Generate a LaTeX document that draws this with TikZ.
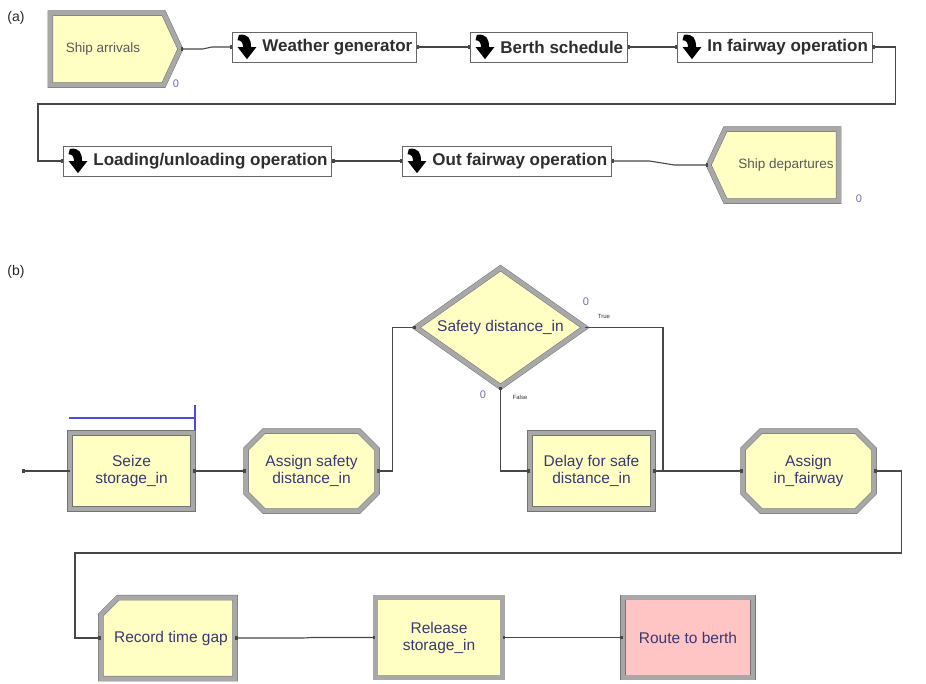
\documentclass[tikz,border=0pt]{standalone}
\usepackage{fontspec}
\setmainfont{Liberation Sans}
\usetikzlibrary{calc, positioning, arrows.meta, shapes.geometric, shapes.symbols, shapes.misc}
\definecolor{arenayellow}{RGB}{255,255,196}
\definecolor{arenapink}{RGB}{255,196,196}
\definecolor{bevel}{RGB}{168,168,168}
\definecolor{bevelline}{RGB}{115,115,115}
\definecolor{modtext}{RGB}{58,56,118}
\definecolor{counter}{RGB}{110,110,175}
\definecolor{seizeblue}{RGB}{75,75,225}
\colorlet{wire}{black!72}

\begin{document}
\begin{tikzpicture}[x=1pt, y=-1pt,
  module/.style={draw=bevelline, double=bevel, double distance=4.5pt, line width=0.5pt,
    fill=arenayellow, text=modtext, align=center, inner sep=0pt,
    font=\fontsize{15.5}{17}\selectfont},
  blockbox/.style={rectangle, module, minimum width=123pt, minimum height=76pt},
  assignbox/.style={chamfered rectangle, chamfered rectangle xsep=9pt, chamfered rectangle ysep=9pt,
    module, minimum width=131pt, minimum height=80pt},
  decidebox/.style={diamond, aspect=1.42, module, minimum width=169pt, minimum height=119pt},
  recordbox/.style={chamfered rectangle, chamfered rectangle corners=north west,
    chamfered rectangle xsep=10pt, chamfered rectangle ysep=10pt,
    module, minimum width=130pt, minimum height=81pt},
  routebox/.style={blockbox, fill=arenapink, minimum width=130pt, minimum height=80pt},
  arrivebox/.style={signal, module, text=black!65, font=\fontsize{13.5}{15}\selectfont,
    signal pointer angle=130, minimum width=130pt, minimum height=72pt},
  subbox/.style={draw=black!60, line width=0.8pt, fill=white, text=black!82,
    font=\fontsize{17}{18}\selectfont\bfseries, minimum height=30pt,
    inner xsep=4pt, inner ysep=0pt, anchor=west},
  tag/.style={font=\fontsize{14}{15}\selectfont, text=black!85},
  count/.style={font=\fontsize{11}{11}\selectfont, text=counter},
  branch/.style={font=\fontsize{6}{6}\selectfont, text=black!80},
  link/.style={draw=wire, line width=1.1pt,
    {Square[length=2.5pt,width=3.5pt]}-{Square[length=2.5pt,width=3.5pt]}},
  subicon/.pic={
    \fill[black, scale=1.35] (-6,-9) .. controls (1,-10) and (3,-6) .. (3,0) -- (7,0) -- (0,9)
      -- (-7,0) -- (-3,0) .. controls (-3,-3) and (-4,-5) .. (-7,-5) -- cycle;
  },
]
\useasboundingbox (0,0) rectangle (926,683);

% (a) top level model
\node[tag] (taga) at (16,18) {(a)};
\node[arrivebox, signal to=east] (sa) at (107,49) {Ship arrivals\hspace{8pt}};
\node[count] at (176,84) {0};

\node[subbox] (wg) at (232,47) {\hspace{26pt}Weather generator};
\pic at ([xshift=15pt]wg.west) {subicon};
\node[subbox] (bs) at (470,47) {\hspace{26pt}Berth schedule};
\pic at ([xshift=15pt]bs.west) {subicon};
\node[subbox] (ifo) at (677,47) {\hspace{26pt}In fairway operation};
\pic at ([xshift=15pt]ifo.west) {subicon};
\node[subbox] (lu) at (63,161) {\hspace{26pt}Loading/unloading operation};
\pic at ([xshift=15pt]lu.west) {subicon};
\node[subbox] (ofo) at (402,161) {\hspace{26pt}Out fairway operation};
\pic at ([xshift=15pt]ofo.west) {subicon};

\node[arrivebox, signal to=west] (sd) at (782,165) {\hspace{8pt}Ship departures};
\node[count] at (859,199) {0};

\coordinate (wrapa) at (38,104);
\draw[link] (sa.east) -- ++(22,0) -- ([xshift=-20pt]wg.west) -- (wg.west);
\draw[link] (wg.east) -- (bs.west);
\draw[link] (bs.east) -- (ifo.west);
\draw[link] (ifo.east) -- ++(23,0) |- (wrapa) |- (lu.west);
\draw[link] (lu.east) -- (ofo.west);
\draw[link] (ofo.east) -- ++(38,0) -- ([xshift=-34pt]sd.west) -- (sd.west);

% (b) in fairway operation submodel
\node[tag] (tagb) at (16,272) {(b)};
\node[blockbox] (seize) at (131.5,471) {Seize\\storage\_in};
\coordinate (qleft) at (69,418);
\coordinate (qright) at (195,418);
\coordinate (qtop) at (195,405);
\coordinate (qfoot) at (195,430);
\draw[seizeblue, line width=1.3pt] (qleft) -- (qright) (qtop) -- (qfoot);

\node[assignbox] (asd) at (311.5,471) {Assign safety\\distance\_in};
\node[decidebox] (sdi) at (500.5,327.5) {Safety distance\_in};
\node[count] at (586,302) {0};
\node[branch] at (604,316) {True};
\node[count] at (483,395) {0};
\node[branch] at (520,397) {False};
\node[blockbox] (delay) at (591.5,471) {Delay for safe\\distance\_in};
\node[assignbox] (aif) at (808.5,471) {Assign\\in\_fairway};

\node[recordbox] (rtg) at (168,638) {\hspace{6pt}Record time gap};
\node[blockbox, minimum width=127pt, minimum height=80pt] (rel) at (439,637.5) {Release\\storage\_in};
\node[routebox] (rtb) at (688,637.5) {Route to berth};

\coordinate (entry) at (22,471);
\coordinate (join) at (663,471);
\coordinate (wrapb) at (75,553);
\draw[link, {Square[length=2.5pt,width=3.5pt,fill=white]}-] (entry) -- (seize.west);
\draw[link] (seize.east) -- ++(24,0) -- ([xshift=-20pt]asd.west) -- (asd.west);
\draw[link] (asd.east) -- ++(15,0) |- (sdi.west);
\draw[link, -] (sdi.east) -| (join);
\draw[link] (sdi.south) |- (delay.west);
\draw[link] (delay.east) -- (aif.west);
\draw[link] (aif.east) -- ++(27,0) |- (wrapb) |- (rtg.west);
\draw[link] (rtg.east) -- ++(68,0) -- ([xshift=-64pt]rel.west) -- (rel.west);
\draw[link] (rel.east) -- ++(60,0) -- ([xshift=-52pt]rtb.west) -- (rtb.west);
\end{tikzpicture}
\end{document}
